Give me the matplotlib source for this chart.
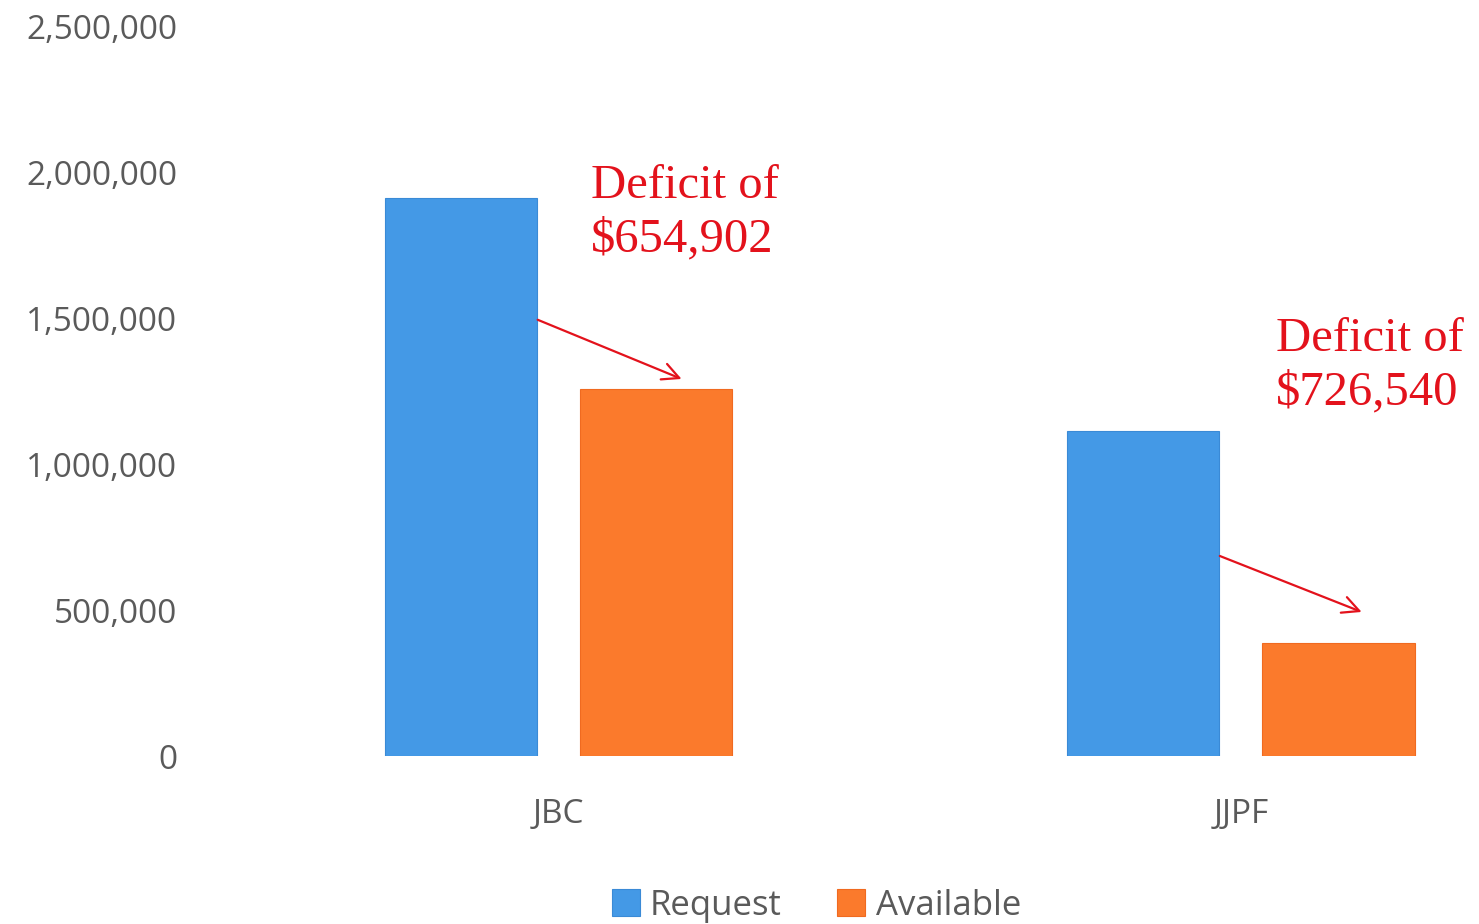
import matplotlib
matplotlib.use('Agg')
import matplotlib.pyplot as plt
import numpy as np

categories = ['JBC', 'JJPF']
request = [1915000, 1115000]
available = [1260098, 388460]
deficits = ['$654,902', '$726,540']

# annotation placement (data coords): text left/baseline, arrow start/end
text_pos = [(0.047, 1729000), (1.051, 1207000)]
arrow_from = [(-0.031, 1496000), (-0.031 + 1, 686000)]
arrow_to = [(0.180, 1293000), (1.177, 494000)]

blue = '#4499e6'
orange = '#fb7a2c'
red = '#e3121c'
grey = '#5a5a5a'

plt.rcParams['font.family'] = ['Open Sans', 'DejaVu Sans']

fig = plt.figure(figsize=(14.79, 9.24), dpi=100)
ax = fig.add_axes([0.15, 0.1818, 0.85, 0.789])

x = np.arange(len(categories))
w = 0.223
off = 0.143
ax.bar(x - off, request, w, color=blue, edgecolor='#3a8ad6', linewidth=0.8, label='Request')
ax.bar(x + off, available, w, color=orange, edgecolor='#f06a20', linewidth=0.8, label='Available')

ax.set_xlim(-0.494, 1.349)
ax.set_ylim(0, 2500000)
ax.set_yticks(np.arange(0, 2500001, 500000))
ax.yaxis.set_major_formatter(matplotlib.ticker.FuncFormatter(lambda v, p: f'{int(v):,}'))
ax.set_xticks(x)
ax.set_xticklabels(categories)
ax.tick_params(axis='both', length=0, labelsize=24, colors=grey)
ax.tick_params(axis='y', pad=32)
ax.tick_params(axis='x', pad=30)
for s in ax.spines.values():
    s.set_visible(False)

for i in range(len(categories)):
    ax.text(text_pos[i][0], text_pos[i][1], 'Deficit of\n' + deficits[i],
            color=red, fontsize=35, family=['Liberation Serif'],
            ha='left', va='baseline', linespacing=1.28, clip_on=False)
    ax.annotate('', xy=arrow_to[i], xytext=arrow_from[i],
                arrowprops=dict(arrowstyle='->', color=red, lw=1.6,
                                mutation_scale=30, shrinkA=0, shrinkB=0))

fig.legend(loc='center', bbox_to_anchor=(0.552, 0.02), ncol=2, frameon=False,
           fontsize=25, handlelength=0.8, handleheight=0.8, handletextpad=0.3,
           columnspacing=1.6, labelcolor=grey)

fig.savefig('out.png', dpi=100)
